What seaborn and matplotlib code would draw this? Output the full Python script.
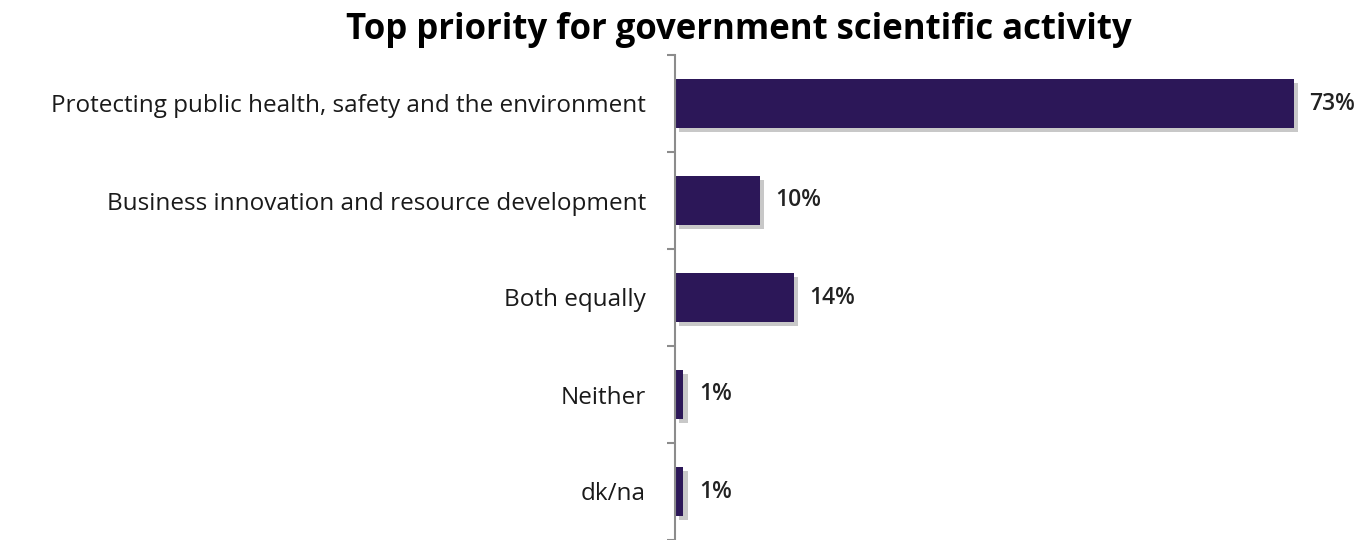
import matplotlib
matplotlib.use("Agg")
import matplotlib.pyplot as plt
import matplotlib.patheffects as pe
import numpy as np
import pandas as pd
import seaborn as sns

categories = [
    "Protecting public health, safety and the environment",
    "Business innovation and resource development",
    "Both equally",
    "Neither",
    "dk/na",
]
values = [73, 10, 14, 1, 1]
title = "Top priority for government scientific activity"

BAR_COLOR = "#2c1758"
AXIS_COLOR = "#8c8c8c"


def draw_chart():
    sns.set_style("white")
    plt.rcParams["font.family"] = ["Open Sans", "DejaVu Sans"]

    df = pd.DataFrame({"category": categories, "value": values})

    fig = plt.figure(figsize=(13.62, 5.4), dpi=100)
    ax = fig.add_axes([675 / 1362, 0.0, 1 - 675 / 1362, (540 - 55) / 540])

    sns.barplot(data=df, x="value", y="category", orient="h",
                color=BAR_COLOR, width=0.5, saturation=1, linewidth=0, ax=ax)

    # soft drop shadow like the office chart
    for bar in ax.patches:
        bar.set_path_effects([
            pe.SimplePatchShadow(offset=(3, -3), shadow_rgbFace="#777777", alpha=0.4),
            pe.Normal(),
        ])

    ax.bar_label(ax.containers[0], labels=[f"{v}%" for v in values],
                 padding=11, fontsize=16.5, fontweight="semibold", color="#222222")

    ax.set_xlim(0, 81)
    ax.set_ylim(4.5, -0.5)
    ax.set_xlabel("")
    ax.set_ylabel("")
    ax.set_xticks([])

    for side in ["top", "right", "bottom"]:
        ax.spines[side].set_visible(False)
    ax.spines["left"].set_color(AXIS_COLOR)
    ax.spines["left"].set_linewidth(1.5)

    ax.set_yticks(np.arange(len(categories)))
    ax.set_yticklabels(categories, fontsize=17.5, color="#1a1a1a")
    ax.set_yticks(np.arange(-0.5, len(categories)), minor=True)
    ax.tick_params(axis="y", which="major", length=0, pad=21)
    ax.tick_params(axis="y", which="minor", length=6, width=1.5,
                   color=AXIS_COLOR, direction="out", left=True)

    fig.text(0.5426, 0.945, title, ha="center", va="center",
             fontsize=25, fontweight="bold", color="#000000")

    fig.savefig("out.png", dpi=100)
    plt.close(fig)


if __name__ == "__main__":
    draw_chart()
